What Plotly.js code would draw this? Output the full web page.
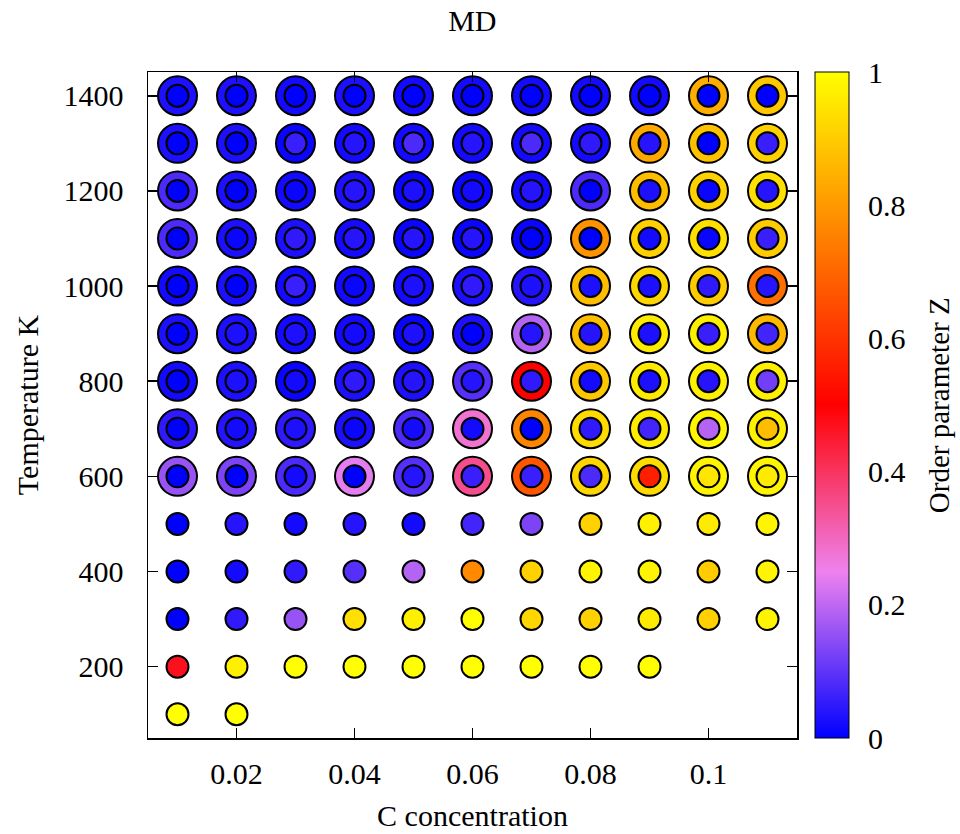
<!DOCTYPE html>
<html>
<head>
<meta charset="utf-8">
<script src="https://cdn.plot.ly/plotly-3.0.1.min.js"></script>
<style>html,body{margin:0;padding:0;background:#fff;}</style>
</head>
<body>
<div id="chart" style="width:960px;height:834px;"></div>
<script>
// C concentration (x) and temperature rows (y)
const conc = [0.01, 0.02, 0.03, 0.04, 0.05, 0.06, 0.07, 0.08, 0.09, 0.10, 0.11];
const tempsBig = [1400, 1300, 1200, 1100, 1000, 900, 800, 700, 600];
const tempsSmall = [500, 400, 300, 200, 100];

// Outer ring order parameter (rows = tempsBig)
const zOuter = [
  [0.03, 0.03, 0.02, 0.03, 0.02, 0.02, 0.02, 0.02, 0.02, 0.84, 0.89],
  [0.03, 0.03, 0.01, 0.02, 0.02, 0.02, 0.02, 0.02, 0.83, 0.88, 0.91],
  [0.08, 0.03, 0.02, 0.03, 0.01, 0.01, 0.02, 0.08, 0.87, 0.91, 0.94],
  [0.08, 0.03, 0.03, 0.02, 0.01, 0.01, 0.01, 0.79, 0.91, 0.94, 0.90],
  [0.02, 0.03, 0.02, 0.02, 0.02, 0.03, 0.04, 0.87, 0.92, 0.90, 0.72],
  [0.03, 0.03, 0.02, 0.02, 0.01, 0.03, 0.19, 0.87, 0.96, 0.97, 0.86],
  [0.02, 0.03, 0.01, 0.03, 0.03, 0.09, 0.50, 0.89, 0.96, 0.97, 0.97],
  [0.05, 0.04, 0.05, 0.03, 0.08, 0.28, 0.76, 0.93, 0.96, 0.98, 0.97],
  [0.16, 0.13, 0.08, 0.24, 0.09, 0.35, 0.67, 0.92, 0.93, 0.98, 0.98]
];

// Inner disc order parameter (rows = tempsBig)
const zInnerBig = [
  [0.00, 0.00, 0.00, 0.00, 0.00, 0.00, 0.00, 0.00, 0.00, 0.00, 0.00],
  [0.00, 0.00, 0.06, 0.04, 0.08, 0.04, 0.08, 0.05, 0.04, 0.00, 0.06],
  [0.00, 0.00, 0.01, 0.04, 0.03, 0.02, 0.04, 0.00, 0.03, 0.01, 0.04],
  [0.00, 0.01, 0.05, 0.04, 0.04, 0.04, 0.00, 0.00, 0.02, 0.01, 0.06],
  [0.00, 0.00, 0.06, 0.01, 0.03, 0.05, 0.03, 0.03, 0.03, 0.05, 0.04],
  [0.00, 0.03, 0.03, 0.02, 0.03, 0.00, 0.04, 0.04, 0.03, 0.06, 0.07],
  [0.00, 0.03, 0.02, 0.05, 0.04, 0.04, 0.05, 0.02, 0.03, 0.04, 0.12],
  [0.00, 0.02, 0.03, 0.01, 0.02, 0.02, 0.00, 0.05, 0.07, 0.19, 0.87],
  [0.00, 0.00, 0.02, 0.00, 0.04, 0.06, 0.06, 0.08, 0.56, 0.95, 0.96]
];

// Single discs at low temperature (rows = tempsSmall), null = no point
const zSmall = [
  [0.00, 0.04, 0.02, 0.04, 0.02, 0.07, 0.13, 0.91, 0.97, 0.96, 0.98],
  [0.00, 0.02, 0.05, 0.09, 0.19, 0.77, 0.91, 0.98, 0.98, 0.90, 0.98],
  [0.00, 0.05, 0.16, 0.94, 0.97, 1.00, 0.92, 0.91, 0.96, 0.91, 0.98],
  [0.47, 0.97, 1.00, 1.00, 1.00, 1.00, 1.00, 1.00, 1.00, null, null],
  [1.00, 1.00, null, null, null, null, null, null, null, null, null]
];

const cbTicks = [0, 0.2, 0.4, 0.6, 0.8, 1];

const palette = [[0, 'rgb(0,0,255)'], [0.25, 'rgb(238,130,238)'], [0.5, 'rgb(255,0,0)'], [1, 'rgb(255,255,0)']];
const FONT = 'Liberation Serif, Times New Roman, serif';

function flatten(temps, grid) {
  const xs = [], ys = [], zs = [];
  temps.forEach((t, i) => {
    conc.forEach((c, j) => {
      const v = grid[i][j];
      if (v !== null && v !== undefined) { xs.push(c); ys.push(t); zs.push(v); }
    });
  });
  return {xs, ys, zs};
}

const outer = flatten(tempsBig, zOuter);
const innerB = flatten(tempsBig, zInnerBig);
const small = flatten(tempsSmall, zSmall);

const traceOuter = {
  type: 'scatter', mode: 'markers',
  x: outer.xs, y: outer.ys,
  marker: {
    size: 39, color: outer.zs, colorscale: palette, cmin: 0, cmax: 1,
    line: {color: 'black', width: 2},
    showscale: true,
    colorbar: {
      x: 1.0277, xanchor: 'left', xpad: 0, ypad: 0,
      y: 0.5, yanchor: 'middle', len: 1, lenmode: 'fraction',
      thickness: 34, thicknessmode: 'pixels',
      outlinecolor: 'black', outlinewidth: 1,
      tickvals: cbTicks, ticktext: cbTicks.map(String),
      ticks: 'outside', ticklen: 13, tickcolor: 'rgba(0,0,0,0)',
      tickfont: {family: FONT, size: 30, color: 'black'}
    }
  },
  showlegend: false, hoverinfo: 'x+y'
};

const traceInner = {
  type: 'scatter', mode: 'markers',
  x: innerB.xs.concat(small.xs), y: innerB.ys.concat(small.ys),
  marker: {
    size: 22, color: innerB.zs.concat(small.zs), colorscale: palette, cmin: 0, cmax: 1,
    line: {color: 'black', width: 2}, showscale: false
  },
  showlegend: false, hoverinfo: 'x+y'
};

// colorbar tick marks on both inner edges
const plotW = 960 - 148 - 163;
const cbL = 1.0277, cbR = cbL + 34 / plotW, tl = 7 / plotW;
const shapes = [];
cbTicks.slice(1, -1).forEach(v => {
  shapes.push({type: 'line', xref: 'paper', yref: 'paper', x0: cbL, x1: cbL + tl, y0: v, y1: v, line: {color: 'black', width: 1.2}});
  shapes.push({type: 'line', xref: 'paper', yref: 'paper', x0: cbR - tl, x1: cbR, y0: v, y1: v, line: {color: 'black', width: 1.2}});
});

const axisCommon = {
  showline: true, linecolor: 'black', linewidth: 1.5, mirror: 'ticks',
  ticks: 'inside', ticklen: 10, tickwidth: 1.5, tickcolor: 'black',
  showgrid: false, zeroline: false,
  tickfont: {family: FONT, size: 30, color: 'black'}
};

const layout = {
  width: 960, height: 834,
  margin: {l: 148, r: 163, t: 72, b: 96},
  paper_bgcolor: 'white', plot_bgcolor: 'white',
  font: {family: FONT, size: 30, color: 'black'},
  title: {text: 'MD', x: 0.492, xanchor: 'center', y: 0.975, yanchor: 'middle', font: {family: FONT, size: 30, color: 'black'}},
  xaxis: Object.assign({}, axisCommon, {
    range: [0.005, 0.115], tick0: 0, dtick: 0.02, ticklabelstandoff: 8,
    title: {text: 'C concentration', standoff: 16, font: {family: FONT, size: 30, color: 'black'}}
  }),
  yaxis: Object.assign({}, axisCommon, {
    range: [50, 1450], tick0: 0, dtick: 200, ticklabelstandoff: 17,
    title: {text: 'Temperature K', standoff: 16, font: {family: FONT, size: 30, color: 'black'}}
  }),
  shapes: shapes,
  annotations: [{
    text: 'Order parameter Z', xref: 'paper', yref: 'paper', x: 1.219, y: 0.5,
    xanchor: 'center', yanchor: 'middle', textangle: -90, showarrow: false,
    font: {family: FONT, size: 29, color: 'black'}
  }]
};

Plotly.newPlot('chart', [traceOuter, traceInner], layout, {displayModeBar: false, staticPlot: true});
</script>
</body>
</html>
